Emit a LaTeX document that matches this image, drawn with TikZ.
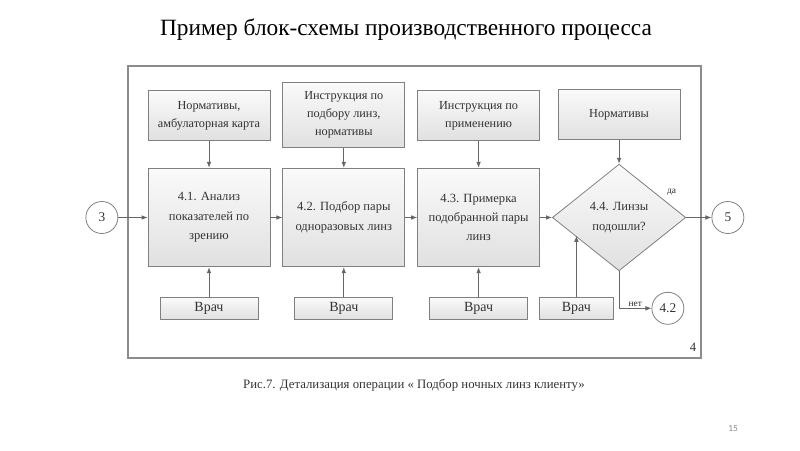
\documentclass[tikz,border=0pt]{standalone}
\usepackage{fontspec}
\setmainfont{Liberation Serif}
\newfontfamily\pagefont{Carlito}
\usetikzlibrary{arrows.meta, positioning, shapes.geometric, calc}
\tikzstyle{block} = [draw=black!50, line width=0.6pt, rectangle, align=center, text=black!80, top color=black!2, bottom color=black!12, inner sep=2pt]
\tikzstyle{process} = [block, minimum width=91.5pt, minimum height=74pt, font=\fontsize{9.4}{14.5}\selectfont]
\tikzstyle{source} = [block, minimum width=91.5pt, minimum height=37.5pt, font=\fontsize{9.2}{13.5}\selectfont]
\tikzstyle{doctor} = [block, minimum width=73.5pt, minimum height=16pt, font=\fontsize{10.5}{12}\selectfont]
\tikzstyle{decision} = [block, diamond, aspect=1.25, minimum width=100pt, minimum height=80pt, inner sep=0pt, font=\fontsize{9.4}{14.5}\selectfont]
\tikzstyle{connector} = [draw=black!50, line width=0.6pt, circle, minimum size=24pt, inner sep=0pt, text=black!80, font=\fontsize{10}{12}\selectfont]
\tikzstyle{tag} = [font=\fontsize{7}{8}\selectfont, text=black!85, inner sep=1pt]
\tikzstyle{flow} = [-{Latex[length=4.5pt, width=3.5pt]}, black!60, line width=0.6pt]

\begin{document}
\begin{tikzpicture}[x=0.75pt, y=0.75pt, node distance=9pt]
    \useasboundingbox (0,0) rectangle (800,450);

    % Title, frame, caption.
    \node (title) at (406,420) {\fontsize{17.5}{20}\selectfont Пример блок-схемы производственного процесса};
    \draw [black!45, line width=0.8pt] (128,92) rectangle (701,384);
    \node (part) [text=black!80, font=\fontsize{9.5}{10}\selectfont] at (693,103) {4};
    \node (caption) [text=black!80, font=\fontsize{9.6}{12}\selectfont] at (414,65) {Рис.7. Детализация операции « Подбор ночных линз клиенту»};
    \node (page) [text=black!45, font=\pagefont\fontsize{7}{8}\selectfont] at (733,21) {15};

    % Processes.
    \node (proc1) [process] at (209,232.5) {4.1. Анализ\\показателей по\\зрению};
    \node (proc2) [process, right=of proc1] {4.2. Подбор пары\\одноразовых линз};
    \node (proc3) [process, right=of proc2] {4.3. Примерка\\подобранной пары\\линз};
    \node (check) [decision, right=of proc3] {4.4. Линзы\\подошли?};

    % Connectors.
    \node (in3) [connector, left=22pt of proc1] {3};
    \node (out5) [connector, right=19pt of check] {5};

    % Inputs.
    \node (norm1) [source, above=20pt of proc1] {Нормативы,\\амбулаторная карта};
    \node (norm2) [source, minimum height=49pt, above=15pt of proc2] {Инструкция по\\подбору линз,\\нормативы};
    \node (norm3) [source, above=20pt of proc3] {Инструкция по\\применению};
    \node (norm4) [source, above=18pt of check] {Нормативы};

    % Doctors.
    \foreach\i in {1,2,3} {
        \node (doctor\i) [doctor, below=22.5pt of proc\i] {Врач};
    }
    \node (doctor4) [doctor, minimum width=56pt, right=8pt of doctor3] {Врач};
    \node (back42) [connector, right=28pt of doctor4] {4.2};

    % Arrows.
    \foreach\i in {1,2,3} {
        \draw [flow] (norm\i) -- (proc\i);
        \draw [flow] (doctor\i) -- (proc\i);
    }
    \draw [flow] (norm4) -- (check);
    \foreach\i/\j in {in3/proc1, proc1/proc2, proc2/proc3, proc3/check, check/out5} {
        \draw [flow] (\i) -- (\j);
    }
    \coordinate (hit) at ($(check.west)!0.34!(check.south)$);
    \draw [flow] (doctor4) -- (doctor4 |- hit);
    \draw [flow] (check.south) |- node [tag, pos=0.75, above] {нет} (back42);
    \node (yes) [tag] at ($(check.east)+(-11pt,19pt)$) {да};
\end{tikzpicture}
\end{document}
